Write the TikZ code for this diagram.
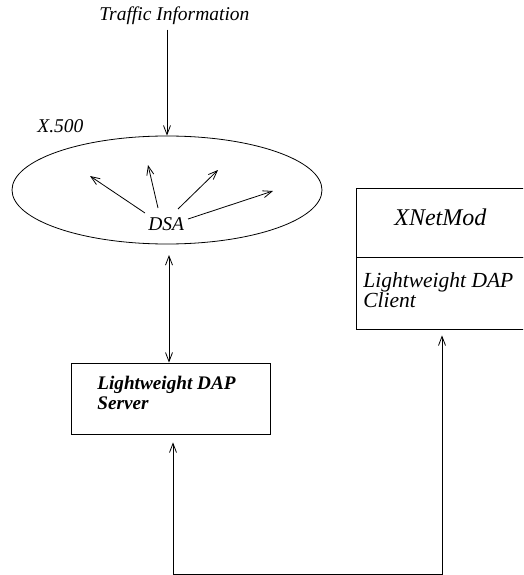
\documentclass[tikz,border=0pt]{standalone}
\usepackage{fontspec}
\setmainfont{Liberation Serif}
\usetikzlibrary{shapes.geometric,arrows.meta,calc}
\begin{document}
\begin{tikzpicture}[x=1pt,y=-1pt,line width=0.8pt,
  barb/.tip={Straight Barb[length=9pt,width=7pt]},
  arr/.style={-barb},
  darr/.style={barb-barb},
  lbl/.style={font=\itshape\fontsize{19.5}{20}\selectfont,inner sep=0pt,anchor=base west},
  srvfont/.style={lbl,font=\bfseries\itshape\fontsize{19.2}{20}\selectfont},
  clifont/.style={lbl,font=\itshape\fontsize{21.5}{20}\selectfont},
  box/.style={draw,inner sep=0pt}]
\path[use as bounding box,clip] (0,0) rectangle (523,575);

% directory part
\node[lbl] (traffic) at (99,21) {Traffic Information};
\node[lbl] (x500) at (37,132) {X.500};
\node[draw,ellipse,minimum width=310pt,minimum height=108pt,inner sep=0pt] (dsa) at (167,190) {};
\node[lbl] (dsaname) at (148,230) {DSA};
\draw[arr] ($(dsa.north |- traffic.south)+(0,4)$) -- (dsa.north);

% fan of arrows leaving the DSA
\coordinate (s1) at (145,213); \coordinate (e1) at (90,176);
\coordinate (s2) at (158,208); \coordinate (e2) at (148,165);
\coordinate (s3) at (178,209); \coordinate (e3) at (218,170);
\coordinate (s4) at (188,219); \coordinate (e4) at (273,191);
\draw[arr] (s1) -- (e1);
\draw[arr] (s2) -- (e2);
\draw[arr] (s3) -- (e3);
\draw[arr] (s4) -- (e4);

% server
\node[box,minimum width=199pt,minimum height=71pt] (server) at (170.5,398.5) {};
\node[srvfont] (server1) at (97,389) {Lightweight DAP};
\node[srvfont] (server2) at (97,409) {Server};
\coordinate (d1) at (169,255);
\draw[darr] (d1) -- (d1 |- server.north);

% client
\node[box,minimum width=180pt,minimum height=69pt] (xnet) at (446,222.5) {};
\node[box,minimum width=180pt,minimum height=72pt] (client) at (446,293) {};
\node[lbl,font=\itshape\fontsize{24}{26}\selectfont] (xnetname) at (394,225) {XNetMod};
\node[clifont] (client1) at (363,287) {Lightweight DAP};
\node[clifont] (client2) at (363,307) {Client};

% link between server and client
\coordinate (c1) at (173,574);
\coordinate (c2) at (442,574);
\draw[darr] ($(server.south -| c1)+(0,8)$) -- (c1) -- (c2) -- ($(client.south -| c2)+(0,6)$);
\end{tikzpicture}
\end{document}
